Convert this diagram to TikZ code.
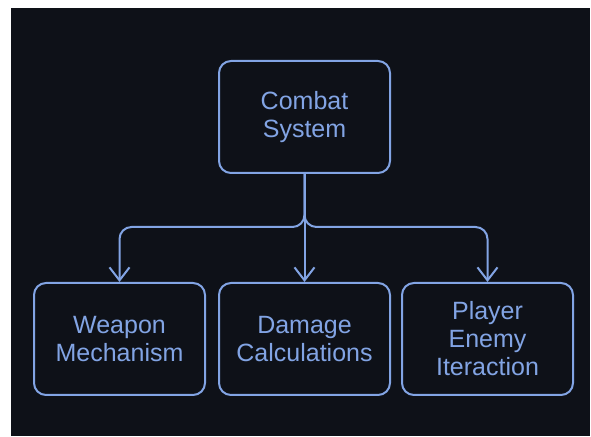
\documentclass[tikz,border=0pt]{standalone}
\usepackage{fontspec}
\setmainfont{Liberation Sans}
\usetikzlibrary{arrows.meta}
\definecolor{panel}{RGB}{14,17,24}
\definecolor{ink}{RGB}{130,164,228}
\tikzset{
  box/.style={draw=ink, line width=2pt, rounded corners=12pt, fill=panel,
    minimum width=171pt, minimum height=112pt, inner sep=0pt,
    text=ink, align=center, font=\fontsize{25}{28}\selectfont},
  link/.style={draw=ink, line width=2pt, rounded corners=12pt,
    -{Straight Barb[length=13pt, width=20pt, line width=2pt]}}
}
\begin{document}
\begin{tikzpicture}[x=1pt, y=1pt]
  % page and dark panel
  \fill[white] (0,0) rectangle (591,436);
  \fill[panel] (11,0) rectangle (590,428);
  \useasboundingbox (0,0) rectangle (591,436);

  % boxes
  \node[box] (cs) at (304.5,319) {Combat\\System};
  \node[box] (wm) at (119.5,97) {Weapon\\Mechanism};
  \node[box] (dc) at (304.5,97) {Damage\\Calculations};
  \node[box] (pe) at (487.5,97) {Player\\Enemy\\Iteraction};

  % distribution bus
  \coordinate (bus) at (304.5,209);
  \coordinate (lb) at (wm.north |- bus);
  \coordinate (rb) at (pe.north |- bus);

  % connectors
  \draw[link] (cs.south) |- (lb) -- (wm.north);
  \draw[link] (cs.south) |- (rb) -- (pe.north);
  \draw[link] (cs.south) -- (dc.north);
\end{tikzpicture}
\end{document}
